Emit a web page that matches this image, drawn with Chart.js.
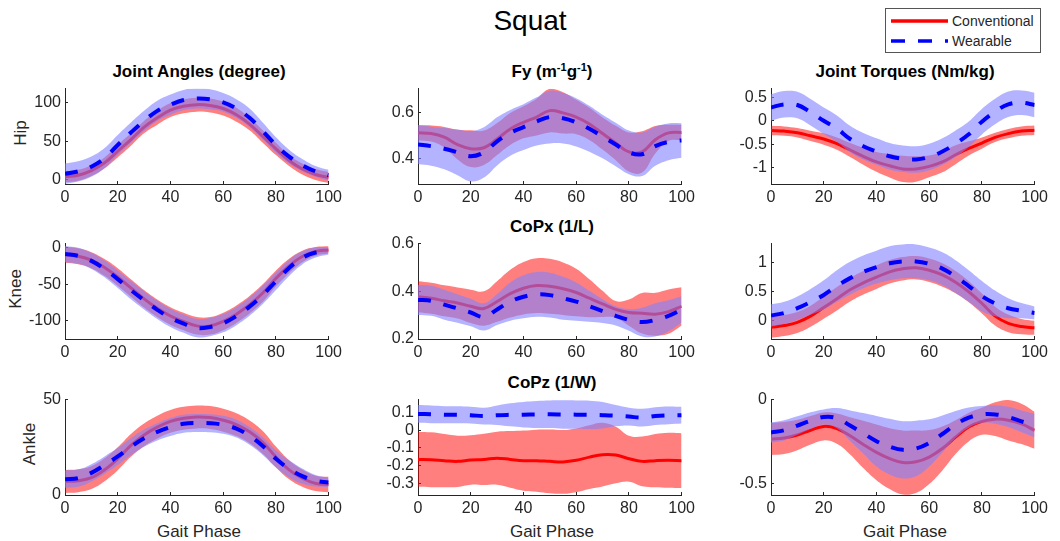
<!DOCTYPE html>
<html>
<head>
<meta charset="utf-8">
<script src="https://cdn.jsdelivr.net/npm/chart.js@4.4.1/dist/chart.umd.min.js"></script>
<style>
  body { margin: 0; background: #fff; width: 1060px; height: 541px; position: relative; overflow: hidden;
         font-family: 'Liberation Sans', Arial, sans-serif; color: #262626; }
  .txt { position: absolute; white-space: nowrap; line-height: 1; transform: translate(-50%, -50%); }
  .ttl { font-weight: bold; font-size: 17px; color: #000; }
  .ylab { font-size: 17px; transform: translate(-50%, -50%) rotate(-90deg); }
  .xlab { font-size: 17px; }
  sup { font-size: 11px; vertical-align: 6px; }
  #legend { position: absolute; left: 885px; top: 8px; width: 154px; height: 43px; border: 1px solid #555; background: #fff; }
  #legend span { position: absolute; left: 66px; font-size: 14px; line-height: 1; transform: translateY(-50%); }
</style>
</head>
<body>
<div class="txt" style="left:530px;top:21px;font-size:28px;color:#000">Squat</div>
<div id="legend">
  <svg width="154" height="43" style="position:absolute;left:0;top:0">
    <line x1="5" y1="12" x2="62" y2="12" stroke="#ff0000" stroke-width="3.5"/>
    <line x1="5" y1="32" x2="62" y2="32" stroke="#0000ff" stroke-width="3.5" stroke-dasharray="14 13"/>
  </svg>
  <span style="top:12px">Conventional</span>
  <span style="top:32px">Wearable</span>
</div>

<div class="txt ttl" style="left:199px;top:71px">Joint Angles (degree)</div>
<div class="txt ttl" style="left:552px;top:71px">Fy (m<sup>-1</sup>g<sup>-1</sup>)</div>
<div class="txt ttl" style="left:905px;top:71px">Joint Torques (Nm/kg)</div>
<div class="txt ttl" style="left:552px;top:226px">CoPx (1/L)</div>
<div class="txt ttl" style="left:552px;top:382px">CoPz (1/W)</div>

<div class="txt ylab" style="left:20px;top:133px">Hip</div>
<div class="txt ylab" style="left:15px;top:289px">Knee</div>
<div class="txt ylab" style="left:29px;top:444px">Ankle</div>

<div class="txt xlab" style="left:199px;top:531px">Gait Phase</div>
<div class="txt xlab" style="left:552px;top:531px">Gait Phase</div>
<div class="txt xlab" style="left:905px;top:531px">Gait Phase</div>

<script>
// gait phase (%), sampled every 5
const phase = [0, 5, 10, 15, 20, 25, 30, 35, 40, 45, 50, 55, 60, 65, 70, 75, 80, 85, 90, 95, 100]

// hip joint angle (degree)
const hipAngleConv = [4, 6, 12, 22, 37, 52, 68, 80, 90, 95, 97, 96, 92, 84, 72, 56, 40, 25, 14, 7, 3]
const hipAngleConvSd = [7, 7, 7, 7, 8, 8, 8, 9, 9, 9, 9, 9, 9, 9, 8, 8, 8, 7, 7, 7, 7]
const hipAngleWear = [8, 11, 17, 28, 45, 61, 76, 89, 97, 103, 105, 104, 100, 92, 80, 63, 45, 30, 19, 11, 6]
const hipAngleWearSd = [13, 13, 13, 13, 13, 13, 13, 13, 13, 13, 13, 13, 12, 12, 12, 11, 10, 9, 8, 7, 7]

// Fy
const fyConv = [0.513, 0.51, 0.494, 0.462, 0.444, 0.448, 0.486, 0.53, 0.559, 0.582, 0.61, 0.6, 0.582, 0.552, 0.51, 0.469, 0.43, 0.43, 0.483, 0.513, 0.515]
const fyConvSd = [0.033, 0.035, 0.045, 0.065, 0.08, 0.075, 0.07, 0.07, 0.07, 0.08, 0.095, 0.09, 0.075, 0.07, 0.07, 0.075, 0.085, 0.09, 0.06, 0.035, 0.033]
const fyWear = [0.462, 0.455, 0.444, 0.428, 0.411, 0.428, 0.476, 0.513, 0.538, 0.563, 0.582, 0.577, 0.559, 0.531, 0.497, 0.462, 0.428, 0.42, 0.455, 0.474, 0.48]
const fyWearSd = [0.085, 0.085, 0.09, 0.1, 0.11, 0.11, 0.105, 0.1, 0.1, 0.105, 0.115, 0.11, 0.105, 0.1, 0.095, 0.095, 0.095, 0.095, 0.085, 0.08, 0.075]

// hip joint torque (Nm/kg)
const hipTorqueConv = [-0.207, -0.22, -0.253, -0.32, -0.387, -0.487, -0.62, -0.753, -0.873, -0.953, -1.02, -1.02, -0.967, -0.873, -0.72, -0.587, -0.473, -0.353, -0.273, -0.22, -0.2]
const hipTorqueConvSd = [0.1, 0.1, 0.1, 0.11, 0.12, 0.13, 0.15, 0.18, 0.21, 0.25, 0.28, 0.27, 0.23, 0.22, 0.2, 0.15, 0.12, 0.1, 0.1, 0.1, 0.1]
const hipTorqueWear = [0.28, 0.347, 0.333, 0.18, 0.0, -0.167, -0.387, -0.54, -0.653, -0.753, -0.807, -0.82, -0.767, -0.653, -0.487, -0.287, -0.02, 0.193, 0.347, 0.38, 0.333]
const hipTorqueWearSd = [0.28, 0.28, 0.28, 0.28, 0.28, 0.28, 0.28, 0.28, 0.28, 0.28, 0.28, 0.28, 0.28, 0.28, 0.28, 0.27, 0.27, 0.27, 0.27, 0.26, 0.26]

// knee joint angle (degree)
const kneeAngleConv = [-9.5, -11.6, -17, -27, -40, -55, -70, -83, -93.5, -101, -107, -107, -101, -91, -78, -62, -42, -25, -12, -5, -3]
const kneeAngleConvSd = [11, 11, 11, 11.5, 12, 12, 12, 12, 12, 12, 12, 12, 12, 12, 12, 12, 11, 10, 8, 6, 5]
const kneeAngleWear = [-8.6, -11, -18, -29, -43, -58, -72, -85, -96, -104, -110, -108.6, -103.4, -93.5, -80.6, -64.7, -46, -27.6, -13.8, -6.5, -4.3]
const kneeAngleWearSd = [11, 11, 11, 11.5, 12, 12.5, 12.5, 12.5, 12.5, 12.5, 12.5, 12.5, 12.5, 12.5, 12.5, 12.5, 12, 11, 9, 7, 5]

// CoPx (1/L)
const copxConv = [0.377, 0.371, 0.36, 0.351, 0.337, 0.328, 0.357, 0.39, 0.413, 0.424, 0.421, 0.411, 0.395, 0.371, 0.347, 0.324, 0.311, 0.308, 0.304, 0.315, 0.337]
const copxConvSd = [0.065, 0.065, 0.065, 0.065, 0.07, 0.072, 0.085, 0.1, 0.11, 0.115, 0.115, 0.11, 0.1, 0.08, 0.055, 0.035, 0.055, 0.085, 0.09, 0.093, 0.08]
const copxWear = [0.364, 0.36, 0.344, 0.328, 0.311, 0.293, 0.324, 0.357, 0.377, 0.387, 0.384, 0.371, 0.357, 0.337, 0.317, 0.297, 0.28, 0.271, 0.28, 0.297, 0.324]
const copxWearSd = [0.063, 0.063, 0.063, 0.06, 0.058, 0.057, 0.065, 0.08, 0.09, 0.094, 0.094, 0.09, 0.08, 0.065, 0.05, 0.04, 0.045, 0.06, 0.07, 0.065, 0.055]

// knee joint torque (Nm/kg)
const kneeTorqueConv = [-0.108, -0.08, -0.027, 0.08, 0.227, 0.378, 0.53, 0.65, 0.746, 0.838, 0.89, 0.908, 0.865, 0.784, 0.66, 0.497, 0.297, 0.08, -0.043, -0.097, -0.119]
const kneeTorqueConvSd = [0.18, 0.18, 0.18, 0.18, 0.19, 0.2, 0.2, 0.2, 0.2, 0.2, 0.2, 0.2, 0.2, 0.2, 0.19, 0.18, 0.17, 0.16, 0.15, 0.13, 0.12]
const kneeTorqueWear = [0.092, 0.135, 0.216, 0.324, 0.443, 0.595, 0.73, 0.838, 0.919, 0.984, 1.016, 1.016, 0.973, 0.892, 0.757, 0.595, 0.422, 0.297, 0.216, 0.173, 0.135]
const kneeTorqueWearSd = [0.19, 0.19, 0.2, 0.22, 0.25, 0.27, 0.28, 0.28, 0.28, 0.29, 0.29, 0.29, 0.28, 0.28, 0.28, 0.27, 0.26, 0.22, 0.17, 0.13, 0.11]

// ankle joint angle (degree)
const ankleAngleConv = [7.1, 7.5, 9.1, 13.2, 19, 26, 31.5, 35.6, 38.6, 40.2, 40.9, 40.6, 39.2, 36.9, 33.1, 27.6, 19.9, 13.2, 8.8, 6.1, 5.5]
const ankleAngleConvSd = [6, 6, 6, 6, 6, 6, 6, 6, 6, 6, 6, 6, 6, 6, 6, 6, 5.5, 5, 4.5, 4, 4]
const ankleAngleWear = [8.3, 8.8, 11.6, 15.7, 20.2, 25.3, 29.8, 33.1, 35.6, 37.3, 37.7, 37.6, 36.8, 34.8, 31, 25.7, 19, 13.7, 9.9, 7.5, 6.6]
const ankleAngleWearSd = [4.5, 4.5, 4.5, 4.5, 4.5, 4.5, 4.5, 4.5, 4.7, 4.7, 4.7, 4.7, 4.7, 4.7, 4.7, 4.7, 4.5, 4.5, 4, 3, 2.5]

// CoPz (1/W)
const copzConv = [-0.165, -0.167, -0.172, -0.176, -0.168, -0.165, -0.158, -0.165, -0.172, -0.172, -0.176, -0.179, -0.17, -0.152, -0.138, -0.14, -0.161, -0.176, -0.172, -0.17, -0.172]
const copzConvSd = [0.155, 0.155, 0.15, 0.145, 0.14, 0.145, 0.15, 0.16, 0.17, 0.175, 0.18, 0.18, 0.18, 0.18, 0.18, 0.16, 0.13, 0.14, 0.15, 0.155, 0.155]
const copzWear = [0.092, 0.09, 0.088, 0.087, 0.085, 0.08, 0.085, 0.087, 0.088, 0.089, 0.09, 0.089, 0.088, 0.087, 0.085, 0.082, 0.077, 0.071, 0.08, 0.084, 0.085]
const copzWearSd = [0.05, 0.05, 0.048, 0.048, 0.047, 0.047, 0.055, 0.065, 0.072, 0.076, 0.078, 0.08, 0.08, 0.08, 0.075, 0.06, 0.05, 0.05, 0.05, 0.05, 0.047]

// ankle joint torque (Nm/kg)
const ankleTorqueConv = [-0.234, -0.228, -0.21, -0.182, -0.159, -0.172, -0.215, -0.266, -0.313, -0.35, -0.373, -0.369, -0.341, -0.29, -0.223, -0.163, -0.129, -0.116, -0.122, -0.144, -0.182]
const ankleTorqueConvSd = [0.095, 0.095, 0.09, 0.085, 0.083, 0.09, 0.11, 0.14, 0.165, 0.18, 0.19, 0.185, 0.16, 0.13, 0.1, 0.085, 0.08, 0.1, 0.12, 0.12, 0.11]
const ankleTorqueWear = [-0.195, -0.182, -0.154, -0.125, -0.103, -0.11, -0.154, -0.2, -0.247, -0.279, -0.298, -0.29, -0.257, -0.204, -0.148, -0.107, -0.088, -0.088, -0.103, -0.129, -0.154]
const ankleTorqueWearSd = [0.06, 0.06, 0.055, 0.05, 0.045, 0.06, 0.09, 0.12, 0.15, 0.165, 0.17, 0.165, 0.14, 0.11, 0.08, 0.06, 0.05, 0.055, 0.06, 0.065, 0.07]

// x ticks and per-panel y ticks
const xTicks = [0, 20, 40, 60, 80, 100]
const hipAngleTicks = [0, 50, 100]
const fyTicks = [0.4, 0.6]
const hipTorqueTicks = [-1, -0.5, 0, 0.5]
const kneeAngleTicks = [-100, -50, 0]
const copxTicks = [0.2, 0.4, 0.6]
const kneeTorqueTicks = [0, 0.5, 1]
const ankleAngleTicks = [0, 50]
const copzTicks = [-0.3, -0.2, -0.1, 0, 0.1]
const ankleTorqueTicks = [-0.5, 0]

const panels = [
  { col: 0, row: 0, min: -5.3, max: 117.7, ticks: hipAngleTicks, conv: hipAngleConv, convSd: hipAngleConvSd, wear: hipAngleWear, wearSd: hipAngleWearSd },
  { col: 1, row: 0, min: 0.29, max: 0.706, ticks: fyTicks, conv: fyConv, convSd: fyConvSd, wear: fyWear, wearSd: fyWearSd },
  { col: 2, row: 0, min: -1.34, max: 0.68, ticks: hipTorqueTicks, conv: hipTorqueConv, convSd: hipTorqueConvSd, wear: hipTorqueWear, wearSd: hipTorqueWearSd },
  { col: 0, row: 1, min: -125, max: 5.7, ticks: kneeAngleTicks, conv: kneeAngleConv, convSd: kneeAngleConvSd, wear: kneeAngleWear, wearSd: kneeAngleWearSd },
  { col: 1, row: 1, min: 0.2, max: 0.6, ticks: copxTicks, conv: copxConv, convSd: copxConvSd, wear: copxWear, wearSd: copxWearSd },
  { col: 2, row: 1, min: -0.31, max: 1.32, ticks: kneeTorqueTicks, conv: kneeTorqueConv, convSd: kneeTorqueConvSd, wear: kneeTorqueWear, wearSd: kneeTorqueWearSd },
  { col: 0, row: 2, min: 0, max: 50, ticks: ankleAngleTicks, conv: ankleAngleConv, convSd: ankleAngleConvSd, wear: ankleAngleWear, wearSd: ankleAngleWearSd },
  { col: 1, row: 2, min: -0.366, max: 0.173, ticks: copzTicks, conv: copzConv, convSd: copzConvSd, wear: copzWear, wearSd: copzWearSd },
  { col: 2, row: 2, min: -0.566, max: 0, ticks: ankleTorqueTicks, conv: ankleTorqueConv, convSd: ankleTorqueConvSd, wear: ankleTorqueWear, wearSd: ankleTorqueWearSd },
]

// page layout of the 3x3 grid (plot area corners)
const plotLeft = [65, 418, 771]
const plotTop = [83, 238, 394]
const plotW = 268, plotH = 101
const yAxisW = 50, xAxisH = 24, padTop = 11, padRight = 16

Chart.defaults.font.family = "'Liberation Sans', Arial, sans-serif"
Chart.defaults.font.size = 16
Chart.defaults.color = '#262626'

const pts = (ys) => ys.map((y, k) => ({ x: phase[k], y: y }))
const shift = (m, s, sign) => m.map((v, k) => v + sign * s[k])

function band(m, s, color, order) {
  return [
    { data: pts(shift(m, s, -1)), borderWidth: 0, fill: false, order: order + 1 },
    { data: pts(shift(m, s, 1)), borderWidth: 0, fill: '-1', backgroundColor: color, order: order },
  ]
}

panels.forEach((p) => {
  const cv = document.createElement('canvas')
  cv.width = plotW + yAxisW + padRight
  cv.height = plotH + padTop + xAxisH
  cv.style.position = 'absolute'
  cv.style.left = plotLeft[p.col] - yAxisW + 'px'
  cv.style.top = plotTop[p.row] - padTop + 'px'
  document.body.appendChild(cv)

  new Chart(cv, {
    type: 'line',
    data: {
      datasets: [
        ...band(p.conv, p.convSd, 'rgba(255, 0, 0, 0.5)', 5),
        { label: 'Conventional', data: pts(p.conv), borderColor: '#ff0000', borderWidth: 3, fill: false, order: 4 },
        ...band(p.wear, p.wearSd, 'rgba(128, 128, 255, 0.6)', 2),
        { label: 'Wearable', data: pts(p.wear), borderColor: '#0000ff', borderWidth: 4, borderDash: [13, 13], fill: false, order: 1 },
      ],
    },
    options: {
      responsive: false,
      animation: false,
      layout: { padding: { left: 0, right: padRight, top: padTop, bottom: 0 } },
      elements: { point: { radius: 0 }, line: { tension: 0.4, borderCapStyle: 'butt' } },
      plugins: { legend: { display: false }, tooltip: { enabled: false } },
      scales: {
        x: {
          type: 'linear',
          min: 0,
          max: 100,
          afterBuildTicks: (s) => { s.ticks = xTicks.map((v) => ({ value: v })) },
          afterFit: (s) => { s.height = xAxisH },
          border: { color: '#262626', width: 1 },
          grid: { drawOnChartArea: false, tickLength: -3, color: '#262626' },
          ticks: { padding: 7, maxRotation: 0 },
        },
        y: {
          min: p.min,
          max: p.max,
          afterBuildTicks: (s) => { s.ticks = p.ticks.map((v) => ({ value: v })) },
          afterFit: (s) => { s.width = yAxisW },
          border: { color: '#262626', width: 1 },
          grid: { drawOnChartArea: false, tickLength: -3, color: '#262626' },
          ticks: { padding: 7, callback: (v) => String(v) },
        },
      },
    },
  })
})
</script>
</body>
</html>
